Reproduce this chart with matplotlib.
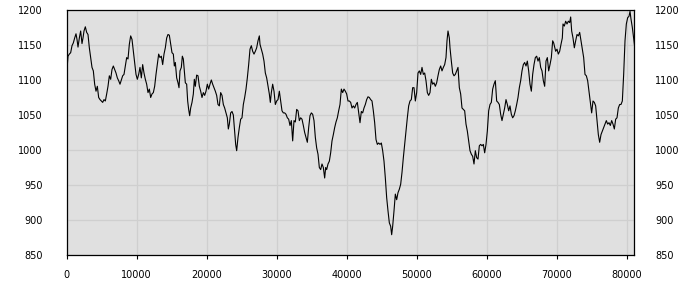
import numpy as np
import matplotlib
matplotlib.use('Agg')
import matplotlib.pyplot as plt

# sample positions (x) and series values
x_pos = [
    0, 214, 405, 595, 786, 976, 1167, 1357, 1500, 1643, 1833, 2024, 2214, 2357, 2500, 2690,
    2881, 3071, 3262, 3452, 3643, 3833, 4024, 4214, 4405, 4595, 4786, 4976, 5167, 5357, 5548,
    5738, 5929, 6119, 6310, 6500, 6690, 6881, 7071, 7262, 7452, 7643, 7833, 8024, 8214, 8405,
    8595, 8786, 8976, 9167, 9357, 9548, 9738, 9929, 10119, 10310, 10500, 10690, 10881, 11071,
    11262, 11452, 11643, 11833, 12024, 12214, 12405, 12595, 12786, 12976, 13167,
    13357, 13548, 13738, 13929, 14119, 14310, 14500, 14690, 14881, 15071, 15262, 15405, 15548,
    15738, 15929, 16071, 16214, 16405, 16548, 16690, 16833, 16976, 17167, 17310, 17452, 17595,
    17738, 17929, 18119, 18262, 18405, 18595, 18786, 18976, 19167, 19357, 19548, 19738, 19929,
    20119, 20310, 20500, 20690, 20881, 21071, 21262, 21452, 21643, 21833, 22024, 22214, 22405,
    22595, 22786, 22976, 23119, 23262, 23452, 23643, 23833, 24024, 24167, 24310, 24500, 24690,
    24881, 25071, 25262, 25452, 25643, 25833, 26024, 26214, 26405, 26595, 26786, 26976, 27167,
    27357, 27548, 27643, 27833, 28024, 28214, 28405, 28595, 28786, 28976, 29119, 29262, 29452,
    29643, 29833, 30024, 30214, 30405, 30595, 30786, 30976, 31167, 31357, 31548, 31738, 31929,
    32119, 32310, 32500, 32690, 32881, 33071, 33262, 33452, 33643, 33833, 34024, 34214, 34405,
    34595, 34786, 34976, 35167, 35357, 35548, 35738, 35929, 36119, 36310, 36500, 36690, 36881,
    37024, 37167, 37357, 37548, 37738, 37929, 38119, 38310, 38500, 38690, 38881, 39071, 39262,
    39452, 39643, 39833, 40024, 40214, 40405, 40595, 40786, 40976, 41167,
    41357, 41548, 41738, 41929, 42119, 42310, 42500, 42690, 42881, 43071, 43262, 43452, 43643,
    43833, 44024, 44214, 44405, 44595, 44786, 44976, 45167, 45357, 45548, 45738, 45929, 46119,
    46310, 46452, 46595, 46786, 46976, 47167, 47357, 47548, 47738, 47929, 48119, 48310, 48500,
    48690, 48881, 49071, 49262, 49452, 49643, 49833, 50024, 50214, 50405, 50595, 50786, 50976,
    51167, 51357, 51548, 51738, 51929, 52119, 52310, 52500, 52690, 52881, 53071, 53262, 53452,
    53643, 53833, 54024, 54214, 54357, 54500, 54690, 54786, 54976, 55167,
    55357, 55548, 55738, 55929, 56119, 56310, 56500, 56690, 56881, 57071, 57262, 57452, 57643,
    57833, 58024, 58214, 58405, 58595, 58786, 58976, 59167, 59357, 59548, 59738, 59929, 60119,
    60310, 60500, 60690, 60881, 61071, 61262, 61452, 61643, 61833, 62024, 62214, 62405, 62595,
    62786, 62976, 63167, 63357, 63548, 63738, 63929, 64119, 64310, 64500, 64690, 64881, 65071,
    65262, 65452, 65643, 65833, 66024, 66214, 66405, 66595, 66786, 66976, 67167, 67357, 67548,
    67738, 67929, 68119, 68310, 68500, 68690, 68881, 69071, 69262, 69452, 69595,
    69881, 70071, 70262, 70452, 70643, 70833, 70929, 71119, 71310, 71500, 71690, 71881, 72024,
    72167, 72357, 72548, 72738, 72929, 73119, 73310, 73500, 73690, 73881, 74071, 74262, 74452,
    74643, 74833, 75024, 75214, 75405, 75595, 75786, 75976, 76167, 76357, 76548, 76738, 76929,
    77119, 77310, 77500, 77690, 77881, 78071, 78262, 78452, 78643, 78833, 79024, 79214, 79405,
    79595, 79786, 79976, 80167, 80357, 80500, 80643, 80833, 81024, 81140,
]
values = [
    1106, 1134, 1137, 1139, 1149, 1153, 1160, 1166, 1158, 1147, 1160, 1170, 1152, 1160, 1170, 1176,
    1168, 1165, 1146, 1132, 1118, 1113, 1094, 1084, 1091, 1075, 1072, 1070, 1068, 1072, 1070,
    1080, 1091, 1106, 1101, 1115, 1120, 1115, 1110, 1103, 1099, 1094, 1100, 1106, 1108, 1120,
    1132, 1130, 1151, 1163, 1158, 1141, 1125, 1108, 1101, 1108, 1118, 1103, 1122, 1110,
    1101, 1094, 1082, 1087, 1075, 1080, 1082, 1091, 1108, 1122, 1137,
    1132, 1134, 1122, 1137, 1146, 1160, 1165, 1164, 1151, 1139, 1137, 1120, 1125,
    1103, 1096, 1089, 1113, 1118, 1134, 1130, 1113, 1096, 1094, 1070, 1058, 1049,
    1060, 1068, 1080, 1101, 1091, 1107, 1106, 1091, 1084, 1075, 1082, 1078, 1084,
    1094, 1087, 1094, 1100, 1094, 1089, 1084, 1078, 1065, 1063, 1082, 1078, 1065,
    1060, 1053, 1046, 1030, 1037, 1053, 1055, 1050, 1025, 1008, 999, 1018, 1032,
    1044, 1046, 1065, 1075, 1087, 1103, 1122, 1144, 1149, 1141, 1137, 1141, 1146,
    1156, 1163, 1151, 1144, 1137, 1127, 1110, 1103, 1091, 1080, 1068, 1082, 1094,
    1084, 1065, 1070, 1072, 1084, 1070, 1056, 1053, 1053, 1051, 1046, 1044, 1035,
    1042, 1013, 1042, 1040, 1058, 1056, 1042, 1046, 1044, 1035, 1025, 1018, 1011,
    1032, 1049, 1053, 1051, 1042, 1018, 1003, 994, 975, 972, 980, 975, 960,
    975, 972, 980, 984, 996, 1013, 1022, 1032, 1040, 1046, 1056, 1065, 1087,
    1082, 1087, 1084, 1080, 1070, 1070, 1068, 1060, 1063, 1060,
    1065, 1068, 1053, 1039, 1055, 1053, 1060, 1065, 1072, 1076, 1075, 1072, 1070,
    1056, 1039, 1015, 1008, 1010, 1008, 1010, 999, 984, 960, 932, 913, 896,
    891, 879, 891, 913, 937, 929, 939, 944, 951, 968, 989, 1008, 1027,
    1046, 1063, 1070, 1072, 1089, 1089, 1070, 1082, 1110, 1113, 1108, 1118, 1108,
    1110, 1099, 1082, 1078, 1082, 1101, 1094, 1096, 1091, 1096, 1106, 1115, 1120,
    1113, 1118, 1122, 1132, 1156, 1170, 1160, 1146, 1127, 1110,
    1106, 1108, 1113, 1118, 1089, 1080, 1060, 1058, 1056, 1037, 1027, 1013, 999,
    994, 991, 980, 999, 989, 987, 1006, 1008, 1006, 1008, 996, 1008, 1027,
    1056, 1065, 1068, 1087, 1094, 1099, 1070, 1068, 1065, 1051, 1042, 1051, 1060,
    1072, 1065, 1056, 1063, 1051, 1046, 1049, 1056, 1065, 1075, 1089, 1099, 1113,
    1122, 1125, 1120, 1127, 1113, 1094, 1084, 1108, 1122, 1132, 1134, 1127, 1132,
    1118, 1113, 1099, 1091, 1127, 1132, 1113, 1122, 1132, 1156, 1153,
    1141, 1144, 1137, 1141, 1151, 1160, 1180, 1177, 1184, 1180, 1184, 1182, 1190,
    1170, 1160, 1146, 1156, 1165, 1163, 1168, 1156, 1144, 1132, 1108, 1106, 1099,
    1084, 1070, 1053, 1070, 1068, 1063, 1042, 1022, 1011, 1022, 1027, 1032, 1037,
    1042, 1037, 1039, 1035, 1042, 1037, 1030, 1044, 1046, 1060, 1065, 1065, 1070,
    1108, 1156, 1180, 1189, 1191, 1198, 1187, 1175, 1160, 1150,
]

x_ticks = [0, 10000, 20000, 30000, 40000, 50000, 60000, 70000, 80000]
y_ticks = [850, 900, 950, 1000, 1050, 1100, 1150, 1200]
x_max = 81140

assert len(x_pos) == len(values), (len(x_pos), len(values))

fig = plt.figure(figsize=(7, 3), dpi=100)
ax = fig.add_axes([0.095, 0.15, 0.8114, 0.8167])
ax.set_facecolor('#e0e0e0')
ax.plot(x_pos, values, color='black', lw=0.8)

ax.set_xlim(0, x_max)
ax.set_ylim(850, 1200)
ax.set_xticks(x_ticks)
ax.set_yticks(y_ticks)
ax.grid(True, color='#cfcfcf', lw=0.9)
ax.set_axisbelow(True)
for s in ax.spines.values():
    s.set_color('black')
    s.set_linewidth(0.9)

ax.tick_params(axis='x', direction='out', length=3, width=0.8, pad=8, labelsize=7)
ax.tick_params(axis='y', length=0, pad=17, labelsize=7)

ax2 = ax.twinx()
ax2.set_ylim(850, 1200)
ax2.set_yticks(y_ticks)
ax2.tick_params(axis='y', length=0, pad=15, labelsize=7)
for s in ax2.spines.values():
    s.set_visible(False)

fig.savefig('out.png', dpi=100)
